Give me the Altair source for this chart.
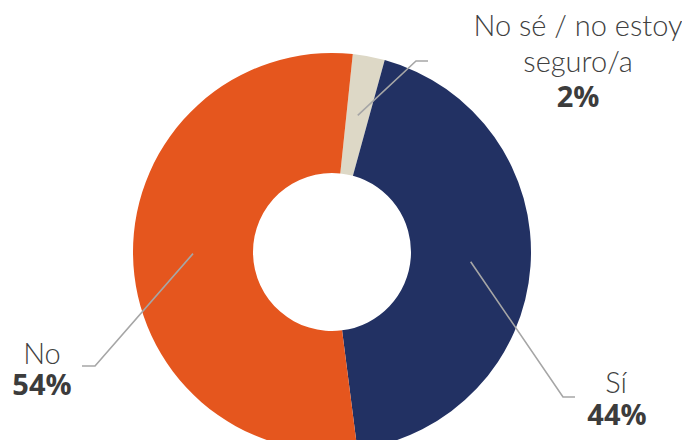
import math
import altair as alt
import pandas as pd

# ---- data ----
categories = ["No sé / no estoy seguro/a", "Sí", "No"]
values = [2.6, 43.7, 53.7]
name_labels = ["No sé / no estoy\nseguro/a", "Sí", "No"]
pct_labels = ["2%", "44%", "54%"]
colors = ["#DDD8C6", "#223163", "#E5561E"]

# ---- layout (page pixel coordinates) ----
CX, CY = 332, 252
R_OUT, R_IN, R_LEAD = 199, 79, 139
START = math.radians(6)
elbows = [(416, 61), (563, 397), (95, 366)]
ends = [(428, 61), (575, 397), (82, 366)]
name_pos = [(578, 36), (616, 393), (42, 364)]
pct_pos = [(578, 107), (617, 425), (42, 395)]
name_lh = [36, 32, 29]

W, H = 674, 432
xs = alt.Scale(domain=[8, 8 + W], range=[0, W])
ys = alt.Scale(domain=[8, 8 + H], range=[0, H])

df = pd.DataFrame({"cat": categories, "value": values, "order": [0, 1, 2]})

arc = alt.Chart(df).mark_arc(
    outerRadius=R_OUT, innerRadius=R_IN, x=CX - 8, y=CY - 8, stroke=None
).encode(
    theta=alt.Theta("value:Q", stack=True,
                    scale=alt.Scale(range=[START, START + 2 * math.pi])),
    order=alt.Order("order:Q"),
    color=alt.Color("cat:N", scale=alt.Scale(domain=categories, range=colors), legend=None),
)

# leader lines, start computed from the slice mid-angles
total = sum(values)
rows = []
cum = 0.0
for i, v in enumerate(values):
    mid = START + 2 * math.pi * (cum + v / 2) / total
    cum += v
    sx = CX + R_LEAD * math.sin(mid)
    sy = CY - R_LEAD * math.cos(mid)
    pts = [(sx, sy), elbows[i], ends[i]]
    for k, (px, py) in enumerate(pts):
        rows.append({"cat": categories[i], "k": k, "px": px, "py": py})
lines_df = pd.DataFrame(rows)

lines = alt.Chart(lines_df).mark_line(color="#A6A6A6", strokeWidth=1.6).encode(
    x=alt.X("px:Q", scale=xs, axis=None),
    y=alt.Y("py:Q", scale=ys, axis=None),
    detail="cat:N",
    order="k:Q",
)

name_layers = []
for i in range(3):
    ndf = pd.DataFrame({"t": [name_labels[i]], "px": [name_pos[i][0]], "py": [name_pos[i][1]]})
    name_layers.append(
        alt.Chart(ndf).mark_text(
            font="Lato", fontWeight=300, fontSize=29, color="#404040",
            align="center", baseline="alphabetic", lineBreak="\n", lineHeight=name_lh[i]
        ).encode(
            x=alt.X("px:Q", scale=xs, axis=None),
            y=alt.Y("py:Q", scale=ys, axis=None),
            text="t:N",
        )
    )

pdf = pd.DataFrame({"t": pct_labels, "px": [p[0] for p in pct_pos], "py": [p[1] for p in pct_pos]})
pcts = alt.Chart(pdf).mark_text(
    font="Open Sans", fontWeight="bold", fontSize=29, color="#3C3C3C",
    align="center", baseline="alphabetic"
).encode(
    x=alt.X("px:Q", scale=xs, axis=None),
    y=alt.Y("py:Q", scale=ys, axis=None),
    text="t:N",
)

chart = alt.layer(arc, lines, *name_layers, pcts).properties(
    width=W, height=H, padding=0, autosize=alt.AutoSizeParams(type="none"),
    background="white"
).configure_view(stroke=None)

chart.save("out.html", embed_options={"renderer": "svg", "actions": False})
